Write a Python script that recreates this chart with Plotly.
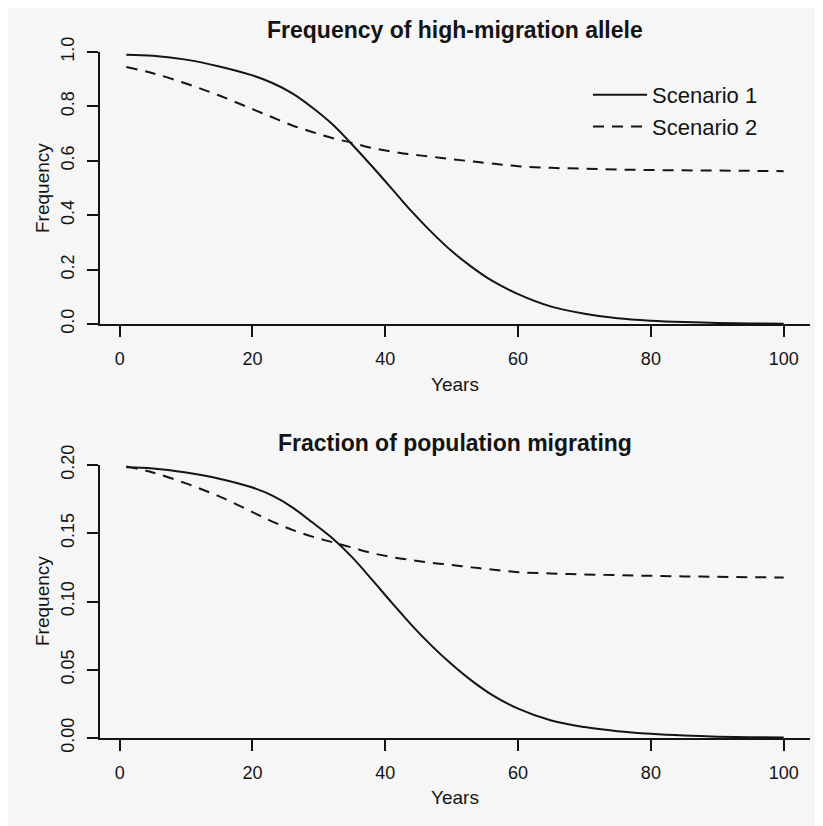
import plotly.graph_objects as go

# ---- data ----
years = [1, 5, 10, 15, 20, 23, 26, 29, 32, 35, 38, 41, 44, 47, 50,
         53, 56, 60, 65, 70, 75, 80, 85, 90, 95, 100]

allele_s1 = [0.990, 0.986, 0.972, 0.947, 0.914, 0.886, 0.848, 0.796, 0.735,
             0.660, 0.580, 0.497, 0.413, 0.337, 0.268, 0.210, 0.160, 0.110,
             0.064, 0.038, 0.021, 0.012, 0.007, 0.004, 0.002, 0.001]
allele_s2 = [0.945, 0.922, 0.884, 0.840, 0.790, 0.760, 0.730, 0.706, 0.684,
             0.666, 0.647, 0.634, 0.623, 0.615, 0.606, 0.598, 0.590, 0.580,
             0.574, 0.571, 0.568, 0.566, 0.565, 0.564, 0.563, 0.562]

migr_s1 = [0.1983, 0.1975, 0.1945, 0.1900, 0.1835, 0.1775, 0.1690, 0.1580,
           0.1465, 0.1325, 0.1160, 0.0990, 0.0825, 0.0675, 0.0540, 0.0420,
           0.0318, 0.0215, 0.0128, 0.0080, 0.0050, 0.0031, 0.0018, 0.0010,
           0.0006, 0.0004]
migr_s2 = [0.1990, 0.1945, 0.1865, 0.1770, 0.1655, 0.1585, 0.1525, 0.1475,
           0.1435, 0.1395, 0.1355, 0.1325, 0.1303, 0.1283, 0.1268, 0.1250,
           0.1235, 0.1215, 0.1205, 0.1198, 0.1193, 0.1188, 0.1184, 0.1181,
           0.1178, 0.1176]

series_names = ["Scenario 1", "Scenario 2"]
panel_titles = ["Frequency of high-migration allele", "Fraction of population migrating"]
x_title = "Years"
y_title = "Frequency"

x_ticks = [0, 20, 40, 60, 80, 100]
y1_ticks = [0.0, 0.2, 0.4, 0.6, 0.8, 1.0]
y1_ticktext = ["0.0", "0.2", "0.4", "0.6", "0.8", "1.0"]
y2_ticks = [0.00, 0.05, 0.10, 0.15, 0.20]
y2_ticktext = ["0.00", "0.05", "0.10", "0.15", "0.20"]

# ---- styling ----
OFF = 8  # page body margin
W, H = 823 - OFF, 826 - OFF
ML, MT = 100 - OFF, 52 - OFF
MR = W - (810 - OFF)
MB = H - (738 - OFF)
PW, PH = W - ML - MR, H - MT - MB
FONT = "Liberation Sans, Arial, Helvetica, sans-serif"
INK = "#141414"
BG = "#f6f6f6"


def px_to_paper_x(px):
    # px given in page coordinates
    return (px - OFF - ML) / PW


def px_to_paper_y(py):
    return (H - MB - (py - OFF)) / PH


fig = go.Figure()

dash2 = "11px,8px"
fig.add_trace(go.Scatter(x=years, y=allele_s1, mode="lines", name=series_names[0],
                         line=dict(color=INK, width=2, shape="spline"),
                         xaxis="x", yaxis="y", showlegend=True))
fig.add_trace(go.Scatter(x=years, y=allele_s2, mode="lines", name=series_names[1],
                         line=dict(color=INK, width=2, dash=dash2, shape="spline"),
                         xaxis="x", yaxis="y", showlegend=True))
fig.add_trace(go.Scatter(x=years, y=migr_s1, mode="lines", name=series_names[0],
                         line=dict(color=INK, width=2, shape="spline"),
                         xaxis="x2", yaxis="y2", showlegend=False))
fig.add_trace(go.Scatter(x=years, y=migr_s2, mode="lines", name=series_names[1],
                         line=dict(color=INK, width=2, dash=dash2, shape="spline"),
                         xaxis="x2", yaxis="y2", showlegend=False))

top_dom = [px_to_paper_y(324), px_to_paper_y(52)]
bot_dom = [px_to_paper_y(738), px_to_paper_y(465)]

common_x = dict(range=[-2.96, 103.96], tickvals=x_ticks, showline=True, linecolor=INK,
                linewidth=2, ticks="outside", ticklen=11, tickwidth=2, tickcolor=INK,
                showgrid=False, zeroline=False, tickfont=dict(family=FONT, size=18, color=INK),
                ticklabelstandoff=6, fixedrange=True)
common_y = dict(showline=True, linecolor=INK, linewidth=2, ticks="outside", ticklen=11,
                tickwidth=2, tickcolor=INK, showgrid=False, zeroline=False, tickangle=-90,
                tickfont=dict(family=FONT, size=18, color=INK), ticklabelstandoff=6,
                fixedrange=True)

fig.update_layout(
    width=W, height=H,
    margin=dict(l=ML, r=MR, t=MT, b=MB, autoexpand=False),
    paper_bgcolor=BG,
    plot_bgcolor=BG,
    font=dict(family=FONT, color=INK),
    xaxis=dict(domain=[0, 1], anchor="y", **common_x),
    yaxis=dict(domain=top_dom, anchor="x", range=[0, 1], tickvals=y1_ticks,
               ticktext=y1_ticktext, **common_y),
    xaxis2=dict(domain=[0, 1], anchor="y2", **common_x),
    yaxis2=dict(domain=bot_dom, anchor="x2", range=[0, 0.2], tickvals=y2_ticks,
                ticktext=y2_ticktext, **common_y),
    showlegend=True,
    legend=dict(x=px_to_paper_x(588), y=px_to_paper_y(74), xanchor="left", yanchor="top",
                bgcolor="rgba(0,0,0,0)", borderwidth=0, itemwidth=54,
                font=dict(family=FONT, size=22, color=INK), tracegroupgap=0),
)

annotations = []
for title, py in zip(panel_titles, [30, 443]):
    annotations.append(dict(text="<b>" + title + "</b>", x=px_to_paper_x(455), y=px_to_paper_y(py),
                            xref="paper", yref="paper", showarrow=False, xanchor="center",
                            yanchor="middle", font=dict(family=FONT, size=23, color=INK)))
for py in [384, 797]:
    annotations.append(dict(text=x_title, x=px_to_paper_x(455), y=px_to_paper_y(py),
                            xref="paper", yref="paper", showarrow=False, xanchor="center",
                            yanchor="middle", font=dict(family=FONT, size=19, color=INK)))
for py in [188, 601]:
    annotations.append(dict(text=y_title, x=px_to_paper_x(42), y=px_to_paper_y(py),
                            xref="paper", yref="paper", showarrow=False, xanchor="center",
                            yanchor="middle", textangle=-90,
                            font=dict(family=FONT, size=19, color=INK)))
fig.update_layout(annotations=annotations)

fig.write_html("out.html")
